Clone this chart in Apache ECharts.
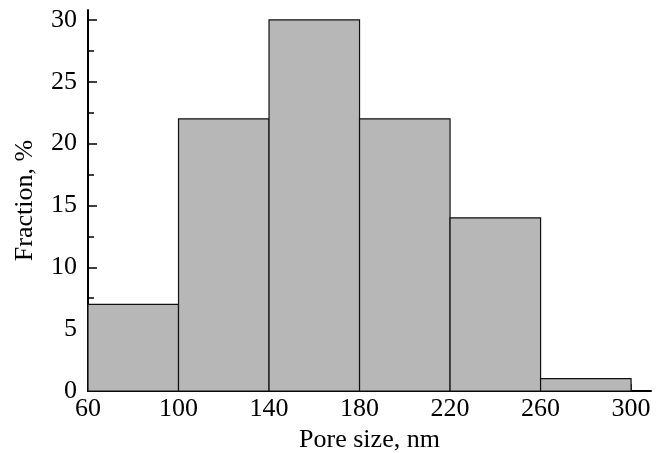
<!DOCTYPE html>
<html>
<head>
<meta charset="utf-8">
<script src="https://cdn.jsdelivr.net/npm/echarts@6/dist/echarts.min.js"></script>
<style>
  html, body { margin: 0; padding: 0; background: #fff; }
  #chart { width: 664px; height: 453px; }
</style>
</head>
<body>
<div id="chart"></div>
<script>
// histogram bins (nm) and fractions (%)
const binStart = [60, 100, 140, 180, 220, 260]
const binEnd = [100, 140, 180, 220, 260, 300]
const fraction = [7, 22, 30, 22, 14, 1]

const xTicks = [60, 100, 140, 180, 220, 260, 300]
const yTicks = [0, 5, 10, 15, 20, 25, 30]
const yMinorTicks = [2.5, 7.5, 12.5, 17.5, 22.5, 27.5]

const font = 'Liberation Serif'

const chart = echarts.init(document.getElementById('chart'), null, { renderer: 'canvas' })

const data = binStart.map((s, i) => [s, binEnd[i], fraction[i]])

chart.setOption({
  animation: false,
  backgroundColor: '#fff',
  grid: { left: 88, right: 13, top: 10, bottom: 62, outerBoundsMode: 'none' },
  xAxis: {
    type: 'value',
    min: 60,
    max: 308.8,
    name: 'Pore size, nm',
    nameLocation: 'middle',
    nameGap: 29,
    nameTextStyle: { fontFamily: font, fontSize: 26, color: '#000' },
    axisLine: { lineStyle: { color: '#000', width: 2 } },
    axisTick: { inside: true, length: 7, customValues: xTicks, lineStyle: { color: '#000', width: 1.5 } },
    axisLabel: { customValues: xTicks, margin: 5, fontFamily: font, fontSize: 26, color: '#000' },
    splitLine: { show: false }
  },
  yAxis: [
    {
      type: 'value',
      min: 0,
      max: 30.8,
      name: 'Fraction, %',
      nameLocation: 'middle',
      nameGap: 50,
      nameTextStyle: { fontFamily: font, fontSize: 26, color: '#000' },
      axisLine: { lineStyle: { color: '#000', width: 2 } },
      axisTick: { inside: true, length: 9, customValues: yTicks, lineStyle: { color: '#000', width: 1.5 } },
      axisLabel: { customValues: yTicks, margin: 11, fontFamily: font, fontSize: 26, color: '#000' },
      splitLine: { show: false }
    },
    {
      type: 'value',
      min: 0,
      max: 30.8,
      position: 'left',
      axisLine: { show: false },
      axisTick: { inside: true, length: 6, customValues: yMinorTicks, lineStyle: { color: '#000', width: 1.5 } },
      axisLabel: { show: false },
      splitLine: { show: false }
    }
  ],
  series: [
    {
      type: 'custom',
      data: data,
      encode: { x: [0, 1], y: 2 },
      renderItem: function (params, api) {
        const p0 = api.coord([api.value(0), api.value(2)])
        const p1 = api.coord([api.value(1), 0])
        return {
          type: 'rect',
          shape: { x: p0[0], y: p0[1], width: p1[0] - p0[0], height: p1[1] - p0[1] },
          style: { fill: '#b7b7b7', stroke: '#111', lineWidth: 1.2 }
        }
      }
    }
  ]
})
</script>
</body>
</html>
